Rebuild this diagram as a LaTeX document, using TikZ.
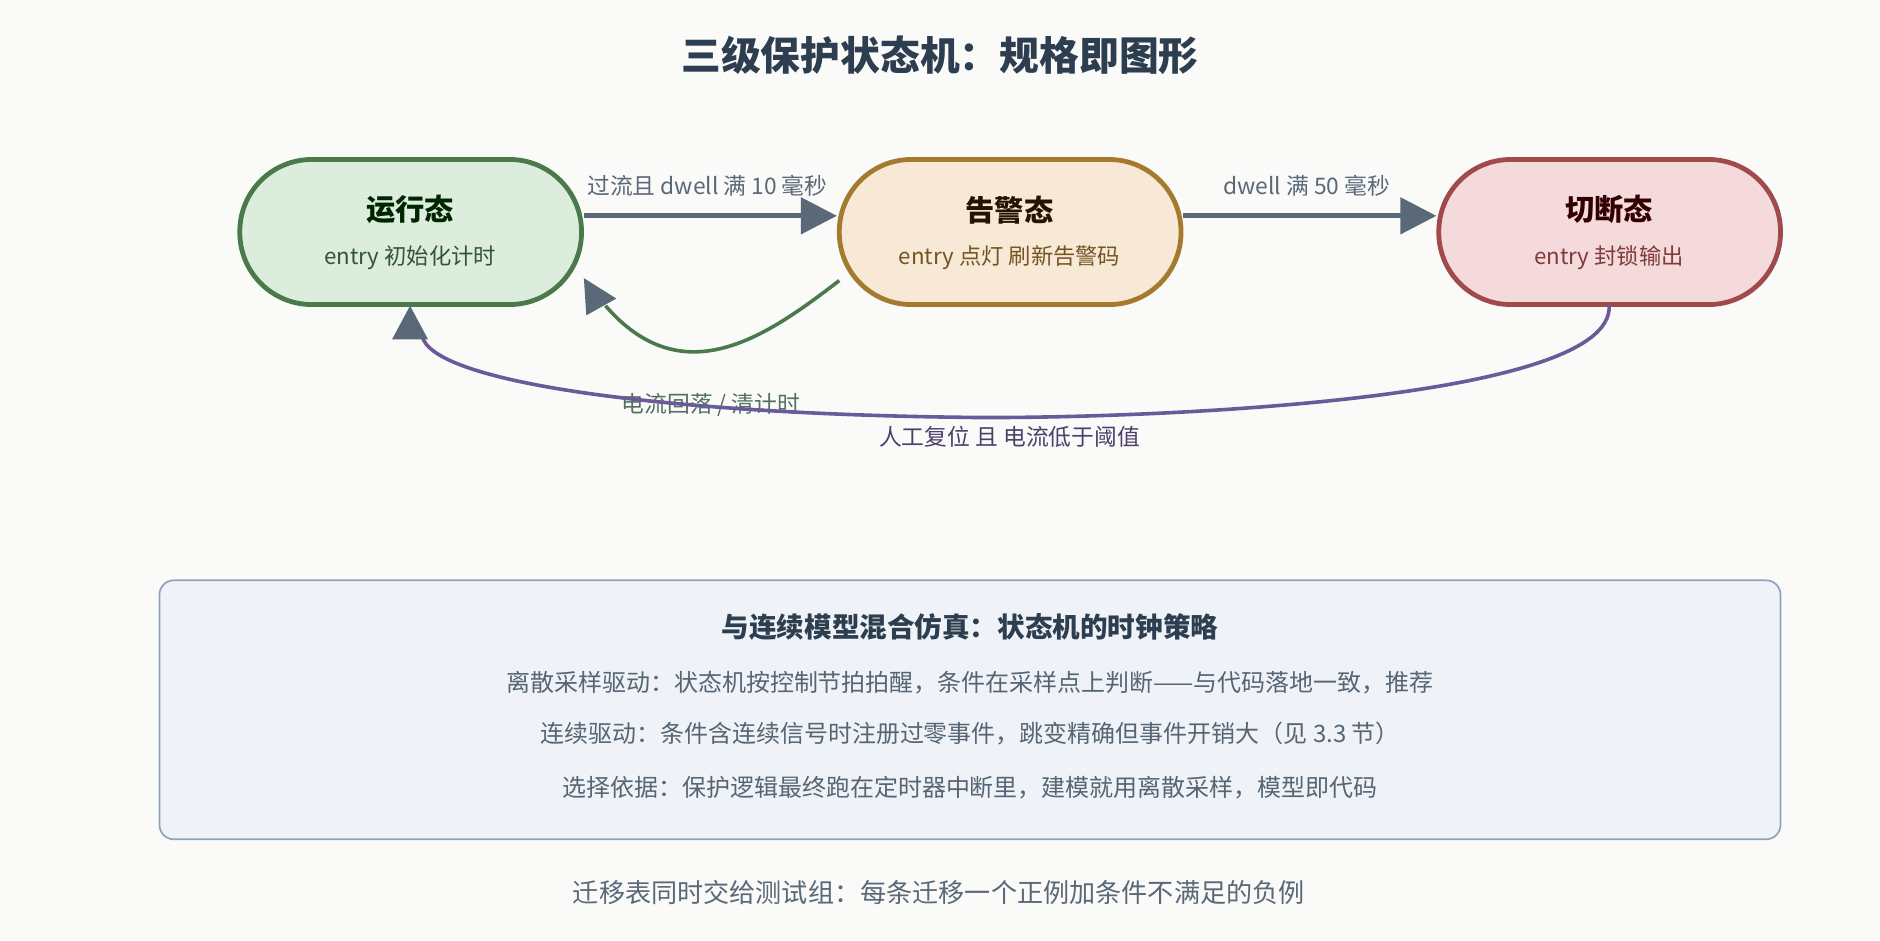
\documentclass[tikz,border=0pt]{standalone}
\usepackage{fontspec}
\setmainfont{Noto Sans CJK SC}
\usetikzlibrary{arrows.meta}
\definecolor{bg}{HTML}{FAFAF8}
\definecolor{gray}{HTML}{5A6878}
\definecolor{txt}{HTML}{2C3E50}
\definecolor{gf}{HTML}{DCEDDE}\definecolor{gd}{HTML}{4A7A4C}
\definecolor{of}{HTML}{F7E9D6}\definecolor{od}{HTML}{A47A30}
\definecolor{rf}{HTML}{F4DADB}\definecolor{rd}{HTML}{A04A4C}
\definecolor{pu}{HTML}{6B5A9A}
\definecolor{bf}{HTML}{EFF3F8}\definecolor{bd}{HTML}{8FA3B8}
\begin{document}
\begin{tikzpicture}[x=0.5pt,y=-0.5pt,
 st/.style={draw=#1,line width=2pt,rounded corners=30pt,minimum width=142.5pt,minimum height=60.5pt,inner sep=0pt},
 arr/.style={draw=gray,line width=2pt,-{Triangle[length=15pt,width=15pt]}},
 lab/.style={font=\fontsize{9.5}{11}\selectfont,text=#1},
 ent/.style={font=\fontsize{9.3}{11}\selectfont,text=#1},
 stt/.style={font=\fontsize{12.2}{14}\selectfont\bfseries,text=#1},
 btx/.style={font=\fontsize{10}{12}\selectfont,text=txt!80}]
\useasboundingbox[fill=bg] (0,0) rectangle (1568,784);
\node[font=\fontsize{16.6}{20}\selectfont\bfseries,text=txt] (title) at (784,46) {三级保护状态机：规格即图形};
\node[st=gd,fill=gf] (run) at (342.5,193.5) {};
\node[st=od,fill=of] (warn) at (842.5,193.5) {};
\node[st=rd,fill=rf] (cut) at (1342.5,193.5) {};
\node[stt=black!85!green] (t1) at (342,175) {运行态};
\node[ent=gd!70!black] (e1) at (342,215) {entry 初始化计时};
\node[stt=black!85!orange] (t2) at (842,175) {告警态};
\node[ent=od!70!black] (e2) at (842,215) {entry 点灯 刷新告警码};
\node[stt=black!80!red] (t3) at (1342,175) {切断态};
\node[ent=rd!80!black] (e3) at (1342,215) {entry 封锁输出};
\draw[arr] (run.east|-0,180) -- (warn.west|-0,180);
\node[lab=gray] (l1) at (590,155) {过流且 dwell 满 10 毫秒};
\draw[arr] (warn.east|-0,180) -- (cut.west|-0,180);
\node[lab=gray] (l2) at (1090,155) {dwell 满 50 毫秒};
\coordinate (g0) at (700,234);
\coordinate (g1) at (487,232);
\draw[gd,line width=1.5pt] (g0) .. controls (640,280) and (570,330) .. (505,255);
\fill[gray] (g1) -- (489,263) -- (514,249) -- cycle;
\node[lab=gray!50!gd] (l3) at (593,338) {电流回落 / 清计时};
\coordinate (p0) at (1342,254);
\coordinate (p1) at (342,255);
\draw[pu,line width=1.5pt] (p0) .. controls (1350,340) and (900,350) .. (800,348) .. controls (560,345) and (360,320) .. (352,280);
\fill[gray] (p1) -- (327,283) -- (357,283) -- cycle;
\node[lab=pu!70!black] (l4) at (842,364) {人工复位 且 电流低于阈值};
\node[draw=bd,fill=bf,line width=0.7pt,rounded corners=6pt,minimum width=676pt,minimum height=108pt] (box) at (809,592) {};
\node[font=\fontsize{11.5}{13}\selectfont\bfseries,text=txt] (bt) at (809,523) {与连续模型混合仿真：状态机的时钟策略};
\node[btx] (b1) at (809,569) {离散采样驱动：状态机按控制节拍拍醒，条件在采样点上判断——与代码落地一致，推荐};
\node[btx] (b2) at (809,612) {连续驱动：条件含连续信号时注册过零事件，跳变精确但事件开销大（见 3.3 节）};
\node[btx] (b3) at (809,657) {选择依据：保护逻辑最终跑在定时器中断里，建模就用离散采样，模型即代码};
\node[font=\fontsize{10.9}{13}\selectfont,text=gray] (foot) at (783,744) {迁移表同时交给测试组：每条迁移一个正例加条件不满足的负例};
\end{tikzpicture}
\end{document}
